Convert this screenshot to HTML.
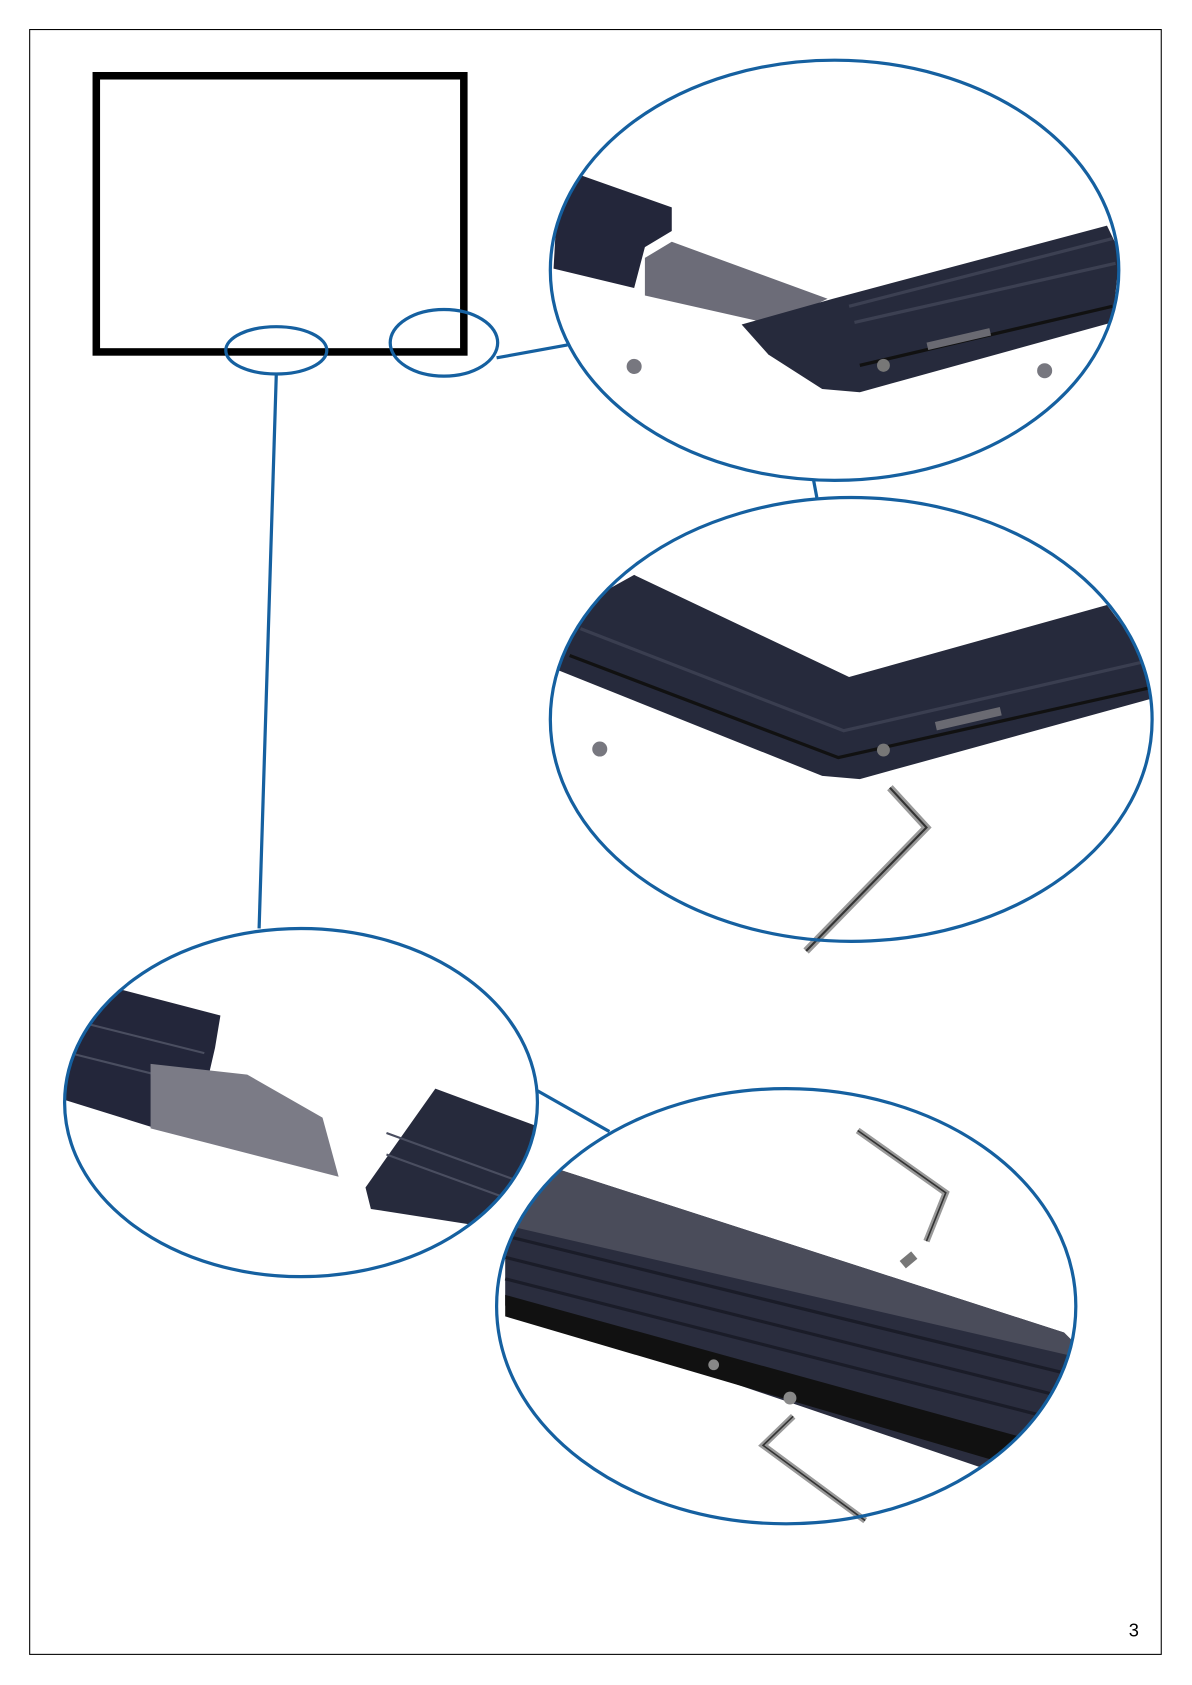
<!DOCTYPE html>
<html><head><meta charset="utf-8"><style>
html,body{margin:0;padding:0;background:#fff;}
svg{display:block;}
</style></head><body>
<svg width="1192" height="1685" viewBox="0 0 1109 1568" xmlns="http://www.w3.org/2000/svg">
<defs>
<clipPath id="c1"><ellipse cx="776.5" cy="251.5" rx="264.5" ry="195.5"/></clipPath>
<clipPath id="c2"><ellipse cx="792" cy="669.5" rx="280" ry="206.5"/></clipPath>
<clipPath id="c3"><ellipse cx="280" cy="1026" rx="220" ry="162"/></clipPath>
<clipPath id="c4"><ellipse cx="731.5" cy="1215.5" rx="269.5" ry="202.5"/></clipPath>
</defs>
<rect x="27.5" y="27.5" width="1053" height="1512" fill="none" stroke="#000" stroke-width="1"/>
<rect x="89.5" y="70.5" width="342" height="257" fill="none" stroke="#000" stroke-width="7"/>

<!-- ellipse 1 content -->
<g clip-path="url(#c1)">
<polygon points="520,160 540,163 625,193 625,215 600,230 590,268 515,250" fill="#23263a"/>
<polygon points="600,240 625,225 770,278 720,302 600,275" fill="#6c6c78"/>
<polygon points="690,302 775,278 1030,210 1042,235 1035,300 800,365 765,362 715,330" fill="#262a3c"/>
<polyline points="790,285 1035,222" stroke="#3c4052" stroke-width="3" fill="none"/>
<polyline points="795,300 1038,245" stroke="#3c4052" stroke-width="3" fill="none"/>
<polyline points="800,340 1035,285" stroke="#111" stroke-width="3" fill="none"/>
<rect x="862" y="312" width="60" height="7" fill="#6a6a72" transform="rotate(-13 892 315)"/>
<circle cx="822" cy="340" r="6" fill="#777"/>
<circle cx="590" cy="341" r="7" fill="#77777f"/>
<circle cx="972" cy="345" r="7" fill="#77777f"/>
</g>
<ellipse cx="776.5" cy="251.5" rx="264.5" ry="195.5" fill="none" stroke="#1560a0" stroke-width="3"/>

<!-- ellipse 2 content -->
<g clip-path="url(#c2)">
<polygon points="515,612 545,560 590,535 790,630 1030,563 1065,610 1072,650 800,725 765,722 515,622" fill="#262a3c"/>
<polyline points="540,585 785,680 1068,615" stroke="#3a3e50" stroke-width="3" fill="none"/>
<polyline points="530,610 780,705 1070,640" stroke="#111" stroke-width="3" fill="none"/>
<rect x="870" y="665" width="62" height="8" fill="#6a6a72" transform="rotate(-13 900 669)"/>
<circle cx="822" cy="698" r="6" fill="#777"/>
<circle cx="558" cy="697" r="7" fill="#77777f"/>
</g>
<polyline points="828,733 862,770 750,885" stroke="#999" stroke-width="7" fill="none"/>
<polyline points="828,733 862,770 750,885" stroke="#333" stroke-width="2" fill="none"/>
<ellipse cx="792" cy="669.5" rx="280" ry="206.5" fill="none" stroke="#1560a0" stroke-width="3"/>

<!-- ellipse 3 content -->
<g clip-path="url(#c3)">
<polygon points="90,915 205,945 200,975 185,1040 145,1050 55,1022 60,960" fill="#23263a"/>
<polyline points="70,950 190,980" stroke="#4a4e60" stroke-width="2" fill="none"/>
<polyline points="65,980 185,1010" stroke="#4a4e60" stroke-width="2" fill="none"/>
<polygon points="140,990 230,1000 300,1040 315,1095 140,1050" fill="#7b7b86"/>
<polygon points="340,1105 405,1013 505,1050 505,1150 345,1125" fill="#262a3c"/>
<polyline points="355,1080 505,1080" stroke="#4a4e60" stroke-width="2" fill="none" transform="rotate(20 430 1080)"/>
<polyline points="355,1100 505,1100" stroke="#4a4e60" stroke-width="2" fill="none" transform="rotate(20 430 1100)"/>
</g>
<ellipse cx="280" cy="1026" rx="220" ry="162" fill="none" stroke="#1560a0" stroke-width="3"/>

<!-- ellipse 4 content -->
<g clip-path="url(#c4)">
<polygon points="470,1120 510,1085 990,1240 1005,1255 950,1350 920,1368 470,1215" fill="#2a2d3e"/>
<polygon points="470,1120 510,1085 990,1240 1005,1255 998,1262 470,1140" fill="#4a4c5a"/>
<polyline points="470,1150 1000,1280" stroke="#1a1c28" stroke-width="3" fill="none"/>
<polyline points="470,1170 990,1300" stroke="#1a1c28" stroke-width="3" fill="none"/>
<polyline points="470,1190 980,1320" stroke="#1a1c28" stroke-width="3" fill="none"/>
<polygon points="470,1205 960,1340 935,1362 470,1225" fill="#111"/>
<circle cx="664" cy="1270" r="5" fill="#888"/>
<circle cx="735" cy="1301" r="6" fill="#888"/>
</g>
<polyline points="798,1052 880,1110 862,1155" stroke="#999" stroke-width="6" fill="none"/>
<polyline points="798,1052 880,1110 862,1155" stroke="#333" stroke-width="1.5" fill="none"/>
<rect x="838" y="1168" width="14" height="9" fill="#777" transform="rotate(-40 845 1172)"/>
<polyline points="738,1318 710,1345 805,1415" stroke="#999" stroke-width="6" fill="none"/>
<polyline points="738,1318 710,1345 805,1415" stroke="#333" stroke-width="1.5" fill="none"/>
<ellipse cx="731.5" cy="1215.5" rx="269.5" ry="202.5" fill="none" stroke="#1560a0" stroke-width="3"/>

<!-- small ellipses + connectors -->
<ellipse cx="257" cy="326" rx="47" ry="22" fill="none" stroke="#1560a0" stroke-width="3"/>
<ellipse cx="413" cy="319" rx="50" ry="31" fill="none" stroke="#1560a0" stroke-width="3"/>
<line x1="462" y1="333" x2="528" y2="321" stroke="#1560a0" stroke-width="3"/>
<line x1="757" y1="447" x2="760" y2="463" stroke="#1560a0" stroke-width="3"/>
<line x1="257" y1="348" x2="241" y2="864" stroke="#1560a0" stroke-width="3"/>
<line x1="500" y1="1015" x2="567" y2="1053" stroke="#1560a0" stroke-width="3"/>

<text x="1055" y="1523" font-family="Liberation Sans, sans-serif" font-size="17" text-anchor="middle">3</text>
</svg>
</body></html>
